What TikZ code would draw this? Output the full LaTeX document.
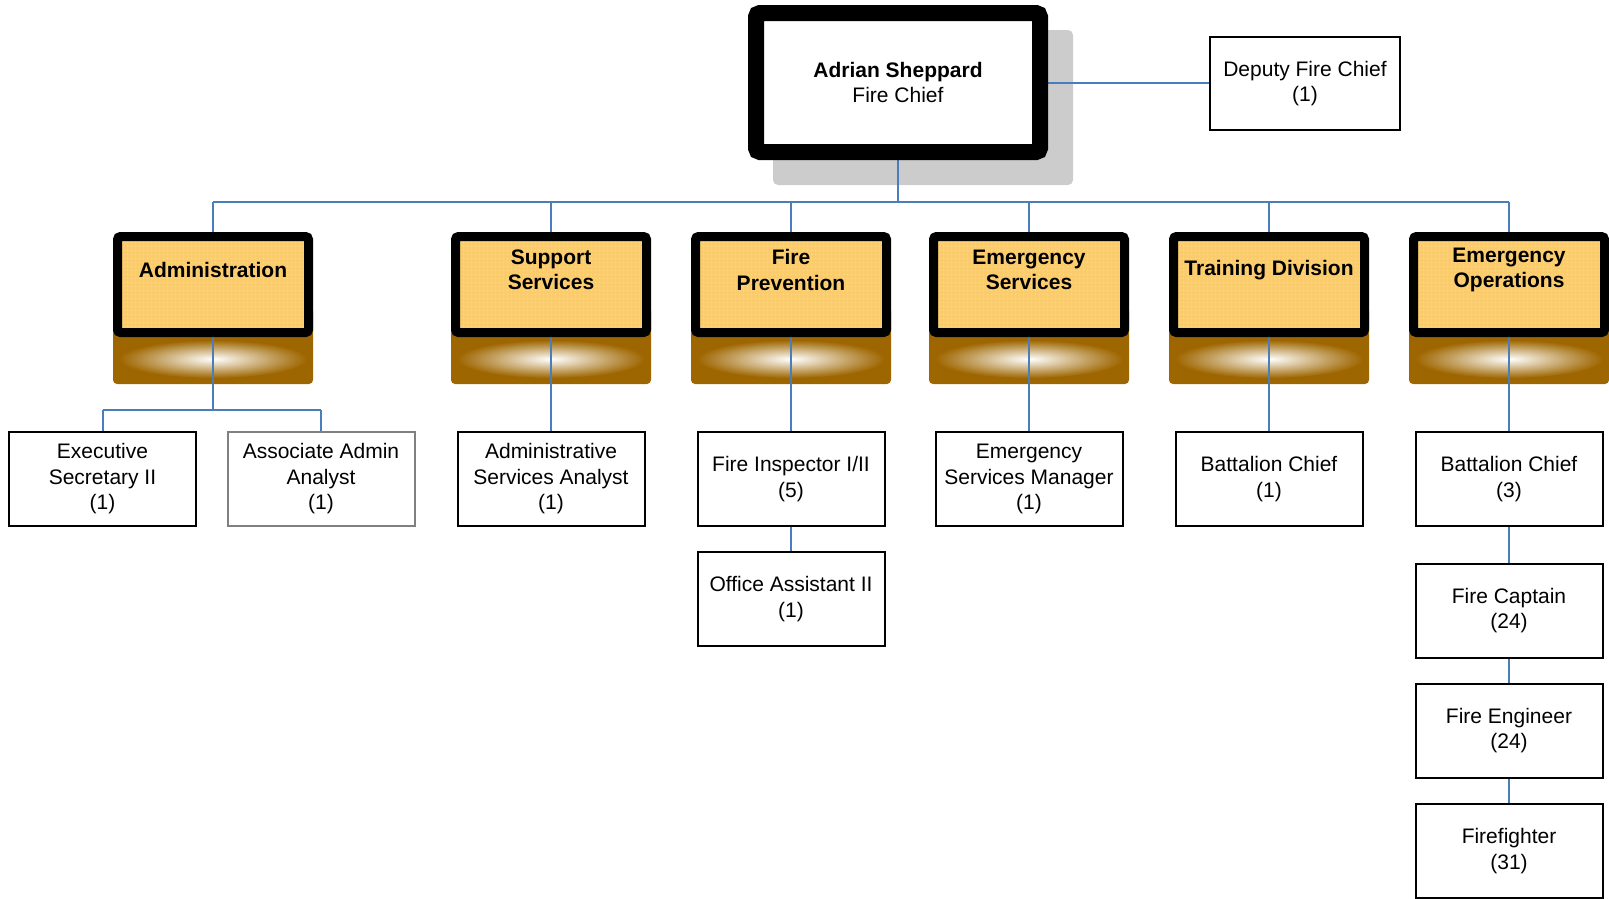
\documentclass[tikz,border=0pt]{standalone}
\usepackage{fontspec}
\setmainfont{Liberation Sans}
\usetikzlibrary{patterns.meta}
\pgfdeclarelayer{back}
\pgfdeclarelayer{mid}
\pgfsetlayers{back,mid,main}

\definecolor{linkblue}{RGB}{74,126,187}
\definecolor{deptyellow}{RGB}{252,204,106}
\definecolor{dotgray}{RGB}{228,222,205}
\definecolor{basebrown}{RGB}{158,102,0}
\definecolor{shadowgray}{RGB}{204,204,204}
\definecolor{boxgray}{RGB}{128,128,128}

\tikzset{
  txt/.style={font=\fontsize{21}{25.5}\selectfont, align=center},
  chiefbox/.style={txt, draw=black, line width=16pt, fill=white, rounded corners=4pt, minimum width=284pt, minimum height=139pt, inner sep=0pt},
  deptbox/.style={draw=black, line width=9pt, preaction={fill=deptyellow}, pattern={Dots[radius=0.8pt, distance=4pt]}, pattern color=dotgray, rounded corners=3pt, minimum width=191pt, minimum height=96pt, inner sep=0pt},
  depttext/.style={txt, font=\fontsize{21}{25.5}\selectfont\bfseries},
  posbox/.style={txt, draw=black, line width=2pt, fill=white, minimum width=187pt, minimum height=94pt, inner sep=0pt},
  link/.style={draw=linkblue, line width=2pt},
}

\begin{document}
\begin{tikzpicture}[x=1pt, y=-1pt]
\useasboundingbox (0,0) rectangle (1609,898);

\node[chiefbox] (chief) at (898,82.5){\textbf{Adrian Sheppard}\\Fire Chief};
\node[posbox, minimum width=190pt, minimum height=93pt] (dep) at (1305,83.5){Deputy Fire Chief\\(1)};

\node[deptbox] (adm) at (213,284.5){};
\node[deptbox] (sup) at (551,284.5){};
\node[deptbox] (fp) at (791,284.5){};
\node[deptbox] (es) at (1029,284.5){};
\node[deptbox] (trn) at (1269,284.5){};
\node[deptbox] (eo) at (1509,284.5){};
\node[depttext] (admt) at (213,270){Administration};
\node[depttext] (supt) at (551,270){Support\\Services};
\node[depttext] (fpt) at (791,270){Fire\\Prevention};
\node[depttext] (est) at (1029,270){Emergency\\Services};
\node[depttext] (trnt) at (1269,270){Training Division};
\node[depttext] (eot) at (1509,270){Emergency\\Operations};

\node[posbox] (exec) at (102.5,479){Executive\\Secretary II\\(1)};
\node[posbox, draw=boxgray] (assoc) at (321,479){Associate Admin\\Analyst\\(1)};
\node[posbox] (asa) at (551,479){Administrative\\Services Analyst\\(1)};
\node[posbox] (insp) at (791,479){Fire Inspector I/II\\(5)};
\node[posbox] (oa) at (791,599){Office Assistant II\\(1)};
\node[posbox] (esm) at (1029,479){Emergency\\Services Manager\\(1)};
\node[posbox] (bc1) at (1269,479){Battalion Chief\\(1)};
\node[posbox] (bc3) at (1509,479){Battalion Chief\\(3)};
\node[posbox] (capt) at (1509,610.5){Fire Captain\\(24)};
\node[posbox] (eng) at (1509,730.5){Fire Engineer\\(24)};
\node[posbox] (ff) at (1509,851){Firefighter\\(31)};

% shadow and brown bases
\begin{pgfonlayer}{back}
\fill[shadowgray, rounded corners=5pt] ([shift={(25,25)}]chief.north west) rectangle ([shift={(25,25)}]chief.south east);
\foreach \d in {adm,sup,fp,es,trn,eo}{
  \fill[basebrown, rounded corners=4pt] ([yshift=30pt]\d.south west) rectangle ([yshift=-47pt]\d.south east);
  \shade[inner color=white, outer color=basebrown] ([yshift=-22pt]\d.south) ellipse [x radius=94pt, y radius=19pt];
}
\end{pgfonlayer}

% connectors
\begin{pgfonlayer}{mid}
\coordinate (bus) at (0,202);
\coordinate (sub) at (0,410);
\draw[link] (chief) -- (chief |- bus);
\draw[link] (chief.center) -- (chief.center -| dep.west);
\draw[link] (adm |- bus) -- (eo |- bus);
\foreach \d in {adm,sup,fp,es,trn,eo}
  \draw[link] (\d |- bus) -- (\d);
\draw[link] (adm) -- (adm |- sub);
\draw[link] (exec |- sub) -- (assoc |- sub);
\draw[link] (exec |- sub) -- (exec);
\draw[link] (assoc |- sub) -- (assoc);
\draw[link] (sup) -- (asa);
\draw[link] (fp) -- (insp);
\draw[link] (insp) -- (oa);
\draw[link] (es) -- (esm);
\draw[link] (trn) -- (bc1);
\draw[link] (eo) -- (bc3);
\draw[link] (bc3) -- (capt);
\draw[link] (capt) -- (eng);
\draw[link] (eng) -- (ff);
\end{pgfonlayer}

\end{tikzpicture}
\end{document}
